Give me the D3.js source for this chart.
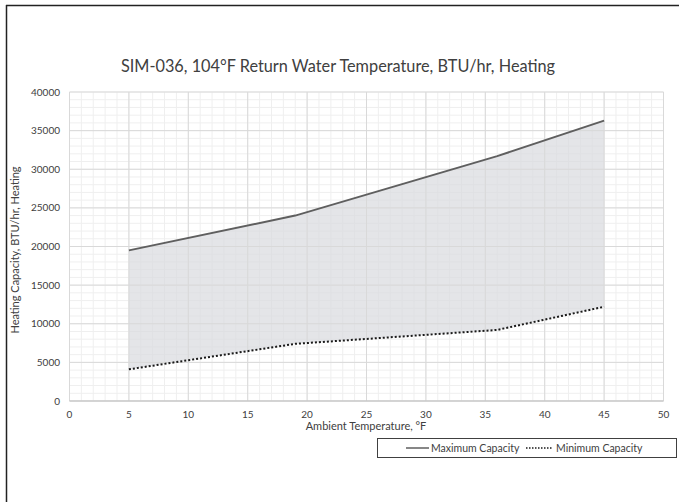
<!DOCTYPE html>
<html>
<head>
<meta charset="utf-8">
<script src="https://cdn.jsdelivr.net/npm/d3@7"></script>
<style>
  body { margin: 0; background: #fff; }
  svg { font-family: Lato, "Open Sans", sans-serif; }
</style>
</head>
<body>
<svg id="chart" width="679" height="502"></svg>
<script>
// data
var temps = [5, 19, 36, 45];
var maxCapacity = [19500, 24000, 31700, 36300];
var minCapacity = [4100, 7400, 9200, 12200];
var xTicks = [0, 5, 10, 15, 20, 25, 30, 35, 40, 45, 50];
var yTicks = [0, 5000, 10000, 15000, 20000, 25000, 30000, 35000, 40000];

var svg = d3.select("#chart");
var margin = {left: 69.5, right: 663.5, top: 92, bottom: 401};

var x = d3.scaleLinear().domain([0, 50]).range([margin.left, margin.right]);
var y = d3.scaleLinear().domain([0, 40000]).range([margin.bottom, margin.top]);

// outer frame (top + left)
svg.append("line").attr("x1", 6).attr("x2", 679).attr("y1", 5.5).attr("y2", 5.5)
   .attr("stroke", "#222").attr("stroke-width", 1.5);
svg.append("line").attr("x1", 6.5).attr("x2", 6.5).attr("y1", 5).attr("y2", 502)
   .attr("stroke", "#222").attr("stroke-width", 1.5);

// minor grid
var grid = svg.append("g");
grid.selectAll(".vminor").data(d3.range(0, 51, 1)).enter().append("line")
   .attr("x1", function(d){ return x(d); }).attr("x2", function(d){ return x(d); })
   .attr("y1", margin.top).attr("y2", margin.bottom)
   .attr("stroke", "#efefef").attr("stroke-width", 1);
grid.selectAll(".hminor").data(d3.range(0, 40001, 1000)).enter().append("line")
   .attr("x1", margin.left).attr("x2", margin.right)
   .attr("y1", function(d){ return y(d); }).attr("y2", function(d){ return y(d); })
   .attr("stroke", "#efefef").attr("stroke-width", 1);

// capacity band
var area = d3.area()
   .x(function(d, i){ return x(temps[i]); })
   .y0(function(d, i){ return y(minCapacity[i]); })
   .y1(function(d, i){ return y(maxCapacity[i]); });
svg.append("path").datum(temps).attr("d", area)
   .attr("fill", "#d9dade").attr("opacity", 0.7);

// major grid
grid = svg.append("g");
grid.selectAll(".vmajor").data(xTicks).enter().append("line")
   .attr("x1", function(d){ return x(d); }).attr("x2", function(d){ return x(d); })
   .attr("y1", margin.top).attr("y2", margin.bottom)
   .attr("stroke", "#d9d9d9").attr("stroke-width", 1);
grid.selectAll(".hmajor").data(yTicks).enter().append("line")
   .attr("x1", margin.left).attr("x2", margin.right)
   .attr("y1", function(d){ return y(d); }).attr("y2", function(d){ return y(d); })
   .attr("stroke", "#d9d9d9").attr("stroke-width", 1);

// bottom axis line
svg.append("line").attr("x1", margin.left).attr("x2", margin.right)
   .attr("y1", y(0)).attr("y2", y(0)).attr("stroke", "#bfbfbf").attr("stroke-width", 1);

// lines
var line = function(vals){
  return d3.line().x(function(d, i){ return x(temps[i]); })
               .y(function(d, i){ return y(vals[i]); })(temps);
};
svg.append("path").attr("d", line(maxCapacity))
   .attr("fill", "none").attr("stroke", "#5f5f5f").attr("stroke-width", 2);
svg.append("path").attr("d", line(minCapacity))
   .attr("fill", "none").attr("stroke", "#1a1a1a").attr("stroke-width", 2)
   .attr("stroke-dasharray", "2,2");

// tick labels
svg.append("g").selectAll("text").data(xTicks).enter().append("text")
   .attr("x", function(d){ return x(d); }).attr("y", 418)
   .attr("text-anchor", "middle").attr("font-size", 10).attr("fill", "#404040")
   .text(function(d){ return d; });
svg.append("g").selectAll("text").data(yTicks).enter().append("text")
   .attr("x", 60).attr("y", function(d){ return y(d) + 3.5; })
   .attr("text-anchor", "end").attr("font-size", 10).attr("fill", "#404040")
   .text(function(d){ return d; });

// titles
svg.append("text").attr("x", 338).attr("y", 72).attr("text-anchor", "middle")
   .attr("font-size", 16.3).attr("fill", "#404040")
   .text("SIM-036, 104°F Return Water Temperature, BTU/hr, Heating");
svg.append("text").attr("x", 366).attr("y", 430).attr("text-anchor", "middle")
   .attr("font-size", 11).attr("fill", "#404040")
   .text("Ambient Temperature, °F");
svg.append("text").attr("transform", "translate(19,250) rotate(-90)")
   .attr("text-anchor", "middle").attr("font-size", 11).attr("fill", "#404040")
   .text("Heating Capacity, BTU/hr, Heating");

// legend
var legend = svg.append("g");
legend.append("rect").attr("x", 377.5).attr("y", 438.5).attr("width", 299).attr("height", 19)
   .attr("fill", "#fff").attr("stroke", "#404040").attr("stroke-width", 1);
legend.append("line").attr("x1", 406).attr("x2", 429).attr("y1", 448).attr("y2", 448)
   .attr("stroke", "#5f5f5f").attr("stroke-width", 1.5);
legend.append("text").attr("x", 431).attr("y", 451.5).attr("font-size", 10.5).attr("fill", "#404040")
   .text("Maximum Capacity");
legend.append("line").attr("x1", 526).attr("x2", 553).attr("y1", 448).attr("y2", 448)
   .attr("stroke", "#1a1a1a").attr("stroke-width", 1.5).attr("stroke-dasharray", "1.5,1.5");
legend.append("text").attr("x", 556).attr("y", 451.5).attr("font-size", 10.5).attr("fill", "#404040")
   .text("Minimum Capacity");
</script>
</body>
</html>
